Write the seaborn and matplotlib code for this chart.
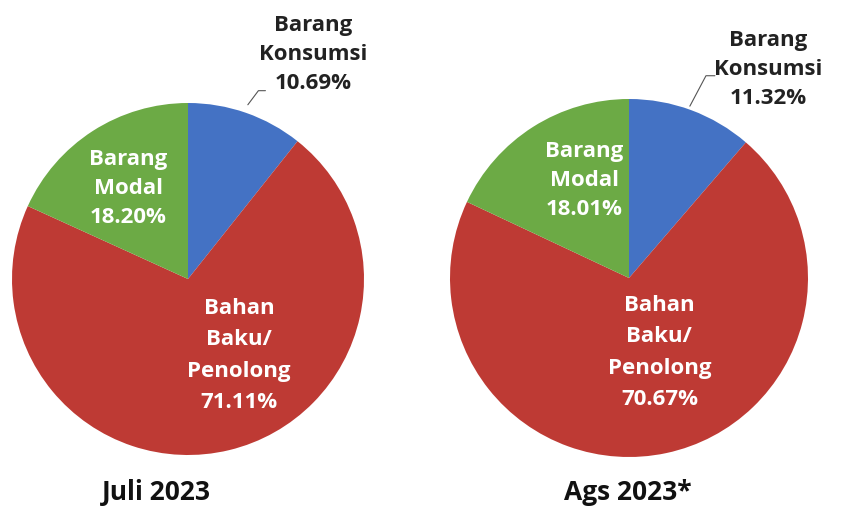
import matplotlib
matplotlib.use("Agg")
import matplotlib.pyplot as plt
import seaborn as sns

# data
categories = ["Barang\nKonsumsi", "Bahan\nBaku/\nPenolong", "Barang\nModal"]
juli_2023 = [10.69, 71.11, 18.20]
ags_2023 = [11.32, 70.67, 18.01]
titles = ["Juli 2023", "Ags 2023*"]

sns.set_theme(style="white")
plt.rcParams["font.family"] = ["Open Sans", "DejaVu Sans"]
colors = sns.color_palette(["#4472C4", "#BE3A34", "#6CAA45"])

fig = plt.figure(figsize=(8.41, 5.10), dpi=100)
W, H = 841, 510


def make_ax(cx, cy, r):
    return fig.add_axes([(cx - r) / W, (H - cy - r) / H, 2 * r / W, 2 * r / H])


def draw(ax, vals, pos_kons, pos_modal, pos_bahan, leader):
    ax.pie(vals, colors=colors, startangle=90, counterclock=False, radius=1,
           wedgeprops=dict(linewidth=0))
    ax.set_xlim(-1, 1)
    ax.set_ylim(-1, 1)
    ax.set_aspect("equal")
    ax.axis("off")
    kw = dict(ha="center", va="center", fontweight="bold", fontsize=16, linespacing=1.5)
    ax.text(*pos_kons, f"{categories[0]}\n{vals[0]:.2f}%", color="#222222", clip_on=False, **kw)
    ax.text(*pos_modal, f"{categories[2]}\n{vals[2]:.2f}%", color="white", **kw)
    ax.text(*pos_bahan, f"{categories[1]}\n{vals[1]:.2f}%", color="white",
            **{**kw, "linespacing": 1.65})
    xs, ys = zip(*leader)
    ax.plot(xs, ys, color="#555555", lw=0.8, clip_on=False)


ax1 = make_ax(188, 280, 176)
draw(ax1, juli_2023, (0.71, 1.28), (-0.34, 0.52), (0.29, -0.43),
     [(0.34, 0.99), (0.40, 1.07), (0.44, 1.07)])

ax2 = make_ax(629, 279, 179)
draw(ax2, ags_2023, (0.78, 1.17), (-0.25, 0.55), (0.17, -0.41),
     [(0.34, 0.96), (0.43, 1.13), (0.48, 1.13)])

fig.text(156 / W, 1 - 493 / H, titles[0], ha="center", va="center",
         fontsize=19, fontweight="bold", color="#111111")
fig.text(628 / W, 1 - 493 / H, titles[1], ha="center", va="center",
         fontsize=19, fontweight="bold", color="#111111")

fig.savefig("out.png", dpi=100)
